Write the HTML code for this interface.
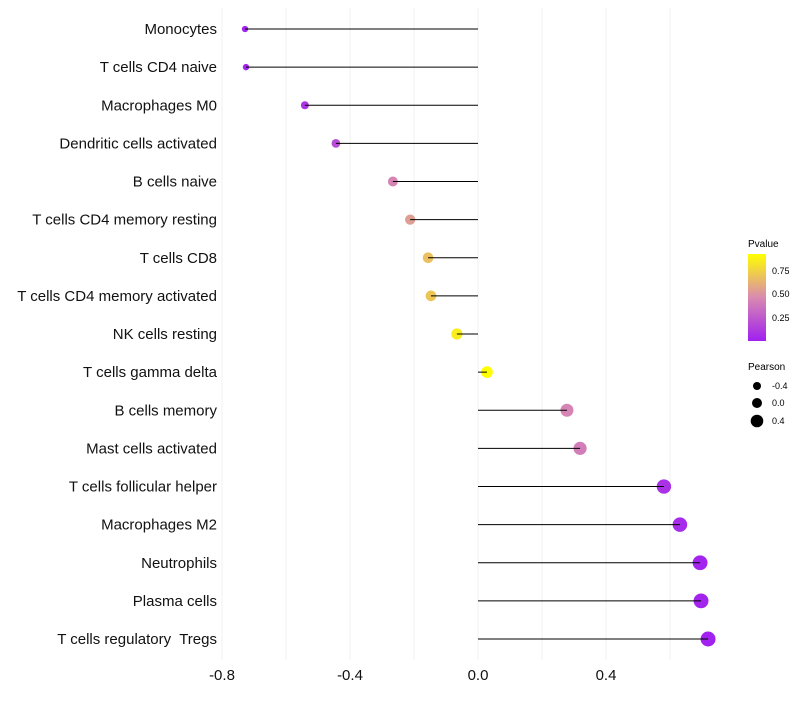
<!DOCTYPE html>
<html><head><meta charset="utf-8"><style>
body{margin:0;background:#fff;font-family:"Liberation Sans",sans-serif}
</style></head><body>
<svg id="chart" width="800" height="700" xmlns="http://www.w3.org/2000/svg" font-family="Liberation Sans, sans-serif">
<defs><linearGradient id="pg" x1="0" y1="1" x2="0" y2="0">
<stop offset="0" stop-color="#a020f0"/><stop offset="0.5" stop-color="#d98ab0"/><stop offset="1" stop-color="#ffff00"/></linearGradient></defs>
<g id="grid"></g><g id="marks"></g><g id="labels"></g>
<g font-size="9">
<text x="748" y="247" font-size="10">Pvalue</text>
<rect x="748" y="254" width="18" height="87" fill="url(#pg)"/>
<text x="772" y="274">0.75</text>
<text x="772" y="297">0.50</text>
<text x="772" y="321">0.25</text>
<text x="748" y="370" font-size="10">Pearson</text>
<circle cx="757" cy="386" r="4"/>
<circle cx="757" cy="403" r="5"/>
<circle cx="757" cy="421" r="6.3"/>
<text x="772" y="389">-0.4</text>
<text x="772" y="406">0.0</text>
<text x="772" y="424">0.4</text>
</g>
</svg>
<script>
const categories=["Monocytes","T cells CD4 naive","Macrophages M0","Dendritic cells activated","B cells naive","T cells CD4 memory resting","T cells CD8","T cells CD4 memory activated","NK cells resting","T cells gamma delta","B cells memory","Mast cells activated","T cells follicular helper","Macrophages M2","Neutrophils","Plasma cells","T cells regulatory  Tregs"];
const pearson=[-0.728,-0.725,-0.541,-0.444,-0.266,-0.212,-0.156,-0.147,-0.066,0.028,0.278,0.319,0.581,0.631,0.694,0.697,0.719];
const pvalue=[0.05,0.05,0.12,0.22,0.45,0.55,0.68,0.7,0.85,0.92,0.45,0.42,0.1,0.08,0.05,0.05,0.04];
const xTicks=[-0.8,-0.4,0,0.4];
const xTickLabels=["-0.8","-0.4","0.0","0.4"];
const gridVals=[-0.8,-0.6,-0.4,-0.2,0,0.2,0.4,0.6];
const NS="http://www.w3.org/2000/svg";
const x=v=>478+v*320;
const y=i=>29+i*38.125;
const r=p=>Math.sqrt(Math.max(4,33.2+31.7*p));
function lerp(a,b,t){return a.map((v,k)=>Math.round(v+(b[k]-v)*t));}
function col(p){const t=Math.max(0,Math.min(1,(p-0.03)/0.89));
const c0=[160,32,240],c1=[217,138,176],c2=[255,255,0];
const c=t<0.5?lerp(c0,c1,t/0.5):lerp(c1,c2,(t-0.5)/0.5);return `rgb(${c})`;}
function mk(tag,at,parent){const e=document.createElementNS(NS,tag);for(const k in at)e.setAttribute(k,at[k]);parent.appendChild(e);return e;}
const G=document.getElementById('grid'),M=document.getElementById('marks'),L=document.getElementById('labels');
gridVals.forEach(v=>{const e=mk('line',{x1:x(v),x2:x(v),y1:8,y2:660,stroke:'#f0f0f0','stroke-width':1},G);

});
xTicks.forEach((v,i)=>{const e=mk('text',{x:x(v),y:680,'text-anchor':'middle','font-size':15,fill:'#111'},L);e.textContent=xTickLabels[i];

});
categories.forEach((c,i)=>{
const t=mk('text',{x:217,y:y(i)+5,'text-anchor':'end','font-size':15,fill:'#111','xml:space':'preserve',style:'white-space:pre'},L);t.textContent=c;


const s=mk('circle',{cx:x(pearson[i]),cy:y(i),r:r(pearson[i]),fill:col(pvalue[i])},M);


const l=mk('line',{x1:x(0),x2:x(pearson[i]),y1:y(i),y2:y(i),stroke:'#000','stroke-width':1},M);


});
</script>
</body></html>
